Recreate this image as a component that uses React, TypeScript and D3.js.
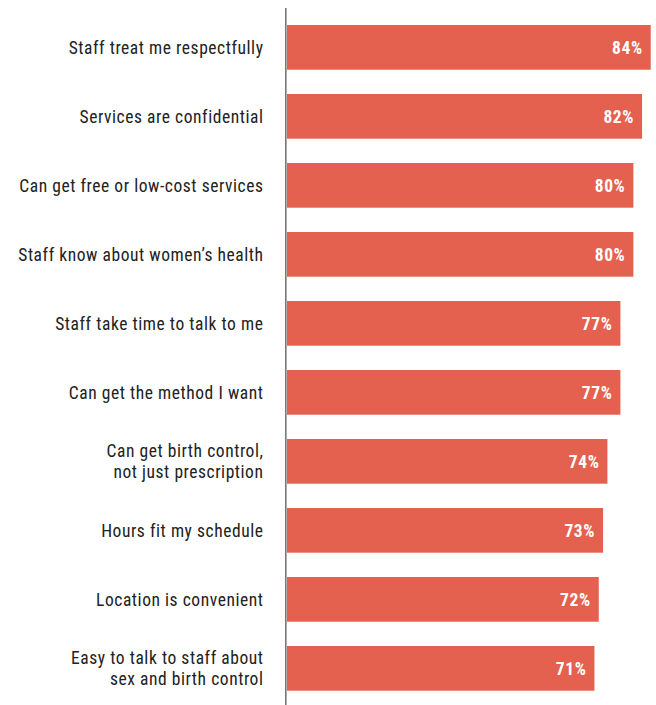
import React from "react";
import * as d3 from "d3";

const categories: string[][] = [
  ["Staff treat me respectfully"],
  ["Services are confidential"],
  ["Can get free or low-cost services"],
  ["Staff know about women\u2019s health"],
  ["Staff take time to talk to me"],
  ["Can get the method I want"],
  ["Can get birth control,", "not just prescription"],
  ["Hours fit my schedule"],
  ["Location is convenient"],
  ["Easy to talk to staff about", "sex and birth control"],
];
const values: number[] = [84, 82, 80, 80, 77, 77, 74, 73, 72, 71];

const W = 656;
const H = 705;
const FONT = "'Roboto Condensed', 'Liberation Sans Narrow', sans-serif";

export default function App() {
  const x = d3.scaleLinear().domain([0, 100]).range([287, 720]);
  const y = d3
    .scaleLinear()
    .domain([0, values.length - 1])
    .range([25, 25 + 69 * (values.length - 1)]);
  const bh = 44.7;
  return (
    <svg width={W} height={H} style={{ position: "absolute", left: 0, top: 0 }}>
      {values.map((v, i) => (
        <g key={i}>
          <rect x={x(0)} y={y(i)} width={x(v) - x(0)} height={bh} fill="#e4604f" />
          <text
            x={x(v) - 8}
            y={y(i) + bh / 2 + 6.5}
            textAnchor="end"
            fill="#fff"
            fontFamily={FONT}
            fontWeight="bold"
            fontSize={17.5}
            letterSpacing={0.6}
          >
            {v}%
          </text>
          {categories[i].map((line, j) => {
            const n = categories[i].length;
            const cy = y(i) + bh / 2 + 6.5 + (j - (n - 1) / 2) * 21;
            return (
              <text
                key={j}
                x={263.5}
                y={cy}
                textAnchor="end"
                fill="#222"
                fontFamily={FONT}
                fontSize={17.5}
                letterSpacing={0.55}
              >
                {line}
              </text>
            );
          })}
        </g>
      ))}
      <line x1={285.8} x2={285.8} y1={8} y2={H} stroke="#777" strokeWidth={1.6} />
    </svg>
  );
}
